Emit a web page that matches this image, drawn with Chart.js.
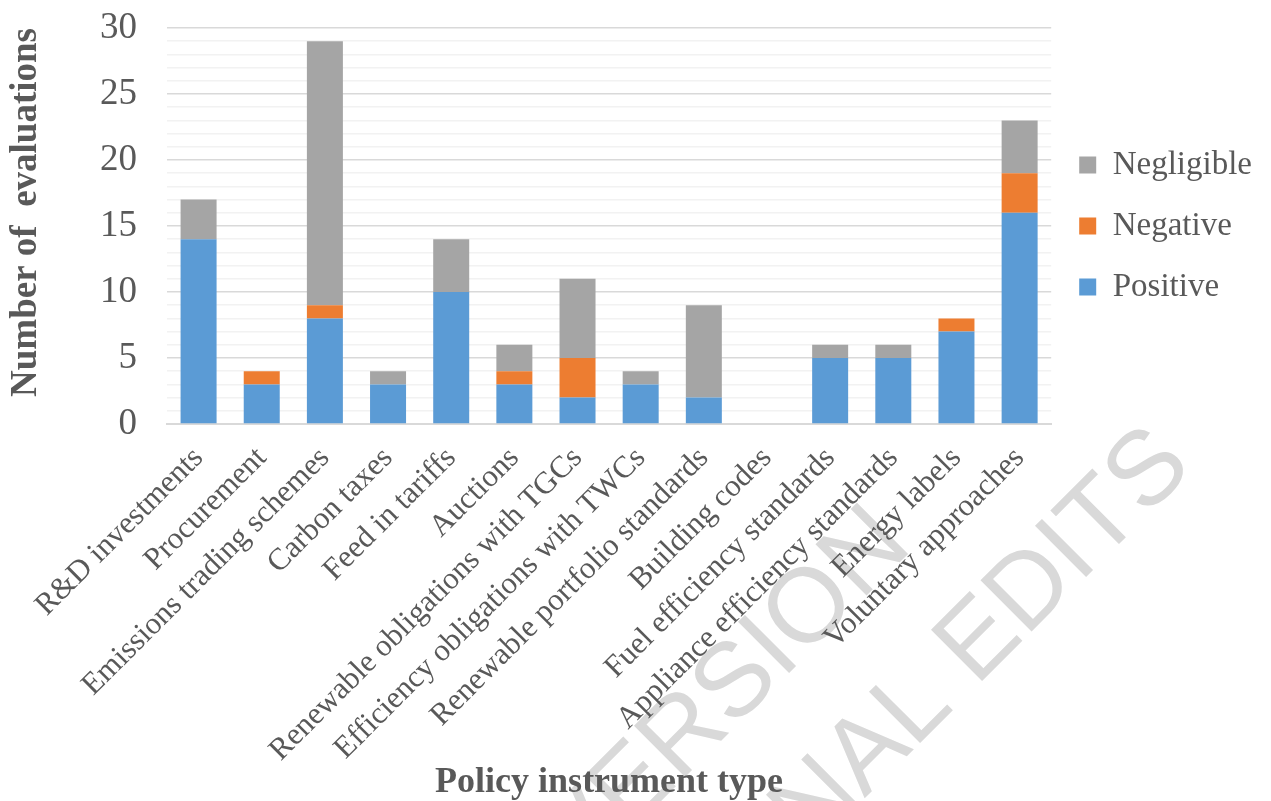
<!DOCTYPE html>
<html>
<head>
<meta charset="utf-8">
<script src="https://cdn.jsdelivr.net/npm/chart.js@4.4.1/dist/chart.umd.min.js"></script>
<style>
  html, body { margin: 0; padding: 0; background: #ffffff; }
  #wrap { width: 1271px; height: 801px; position: relative; }
</style>
</head>
<body>
<div id="wrap"><canvas id="chart"></canvas></div>
<script>
// Evaluations per policy instrument type
const categories = [
  'R&D investments',
  'Procurement',
  'Emissions trading schemes',
  'Carbon taxes',
  'Feed in tariffs',
  'Auctions',
  'Renewable obligations with TGCs',
  'Efficiency obligations with TWCs',
  'Renewable portfolio standards',
  'Building codes',
  'Fuel efficiency standards',
  'Appliance efficiency standards',
  'Energy labels',
  'Voluntary approaches'
];
const positive   = [14, 3, 8, 3, 10, 3, 2, 3, 2, 0, 5, 5, 7, 16];
const negative   = [0, 1, 1, 0, 0, 1, 3, 0, 0, 0, 0, 0, 1, 3];
const negligible = [3, 0, 20, 1, 4, 2, 6, 1, 7, 0, 1, 1, 0, 4];
const yTickLabels = [0, 5, 10, 15, 20, 25, 30];

const SERIF = '"Liberation Serif", "Times New Roman", serif';
const TEXT = '#595959';

// Grey stamp text laid diagonally across the lower right
const stampPlugin = {
  id: 'stamp',
  beforeDraw(chart) {
    const ctx = chart.ctx;
    ctx.save();
    ctx.fillStyle = '#d9d9d9';
    ctx.font = '105px "Liberation Sans", Arial, sans-serif';
    ctx.textAlign = 'left';
    ctx.textBaseline = 'alphabetic';
    const lines = [
      { text: 'VERSION', x: 580, y: 882 },
      { text: 'FINAL EDITS', x: 745, y: 918 }
    ];
    for (const l of lines) {
      ctx.save();
      ctx.translate(l.x, l.y);
      ctx.rotate(-Math.PI / 4);
      ctx.fillText(l.text, 0, 0);
      ctx.restore();
    }
    ctx.restore();
  }
};

new Chart(document.getElementById('chart'), {
  type: 'bar',
  data: {
    labels: categories,
    datasets: [
      { label: 'Positive',   data: positive,   backgroundColor: '#5b9bd5' },
      { label: 'Negative',   data: negative,   backgroundColor: '#ed7d31' },
      { label: 'Negligible', data: negligible, backgroundColor: '#a5a5a5' }
    ]
  },
  options: {
    responsive: true,
    maintainAspectRatio: false,
    animation: false,
    datasets: { bar: { barPercentage: 0.57, categoryPercentage: 1 } },
    layout: { padding: { top: 28, right: 9, left: 0, bottom: 0 } },
    plugins: {
      tooltip: { enabled: false },
      legend: {
        position: 'right',
        fullSize: false,
        reverse: true,
        labels: {
          boxWidth: 17,
          boxHeight: 17,
          padding: 28,
          color: TEXT,
          font: { family: SERIF, size: 33 }
        }
      }
    },
    scales: {
      x: {
        stacked: true,
        grid: { display: false, drawTicks: false },
        border: { color: '#d9d9d9', width: 2 },
        ticks: {
          color: TEXT,
          font: { family: SERIF, size: 31 },
          minRotation: 45,
          maxRotation: 45,
          autoSkip: false,
          padding: 16
        },
        title: {
          display: true,
          text: 'Policy instrument type',
          color: TEXT,
          font: { family: SERIF, size: 36, weight: 'bold', lineHeight: 1.0 },
          padding: { top: 0, bottom: 0 }
        },
        afterFit(scale) { scale.height = 377; }
      },
      y: {
        stacked: true,
        min: 0,
        max: 30,
        border: { display: false },
        grid: {
          drawTicks: false,
          lineWidth: 1.5,
          color: (c) => (c.tick && c.tick.value % 5 === 0) ? '#d9d9d9' : '#f2f2f2'
        },
        ticks: {
          stepSize: 1,
          autoSkip: false,
          color: TEXT,
          font: { family: SERIF, size: 37 },
          padding: 30,
          callback: (v) => yTickLabels.includes(v) ? String(v) : ''
        },
        title: {
          display: true,
          align: 'end',
          text: 'Number of  evaluations',
          color: TEXT,
          font: { family: SERIF, size: 37, weight: 'bold' }
        },
        afterFit(scale) {
          scale.width = 167;
          scale.paddingTop = 0;
          scale.paddingBottom = 0;
        }
      }
    }
  },
  plugins: [stampPlugin]
});
</script>
</body>
</html>
